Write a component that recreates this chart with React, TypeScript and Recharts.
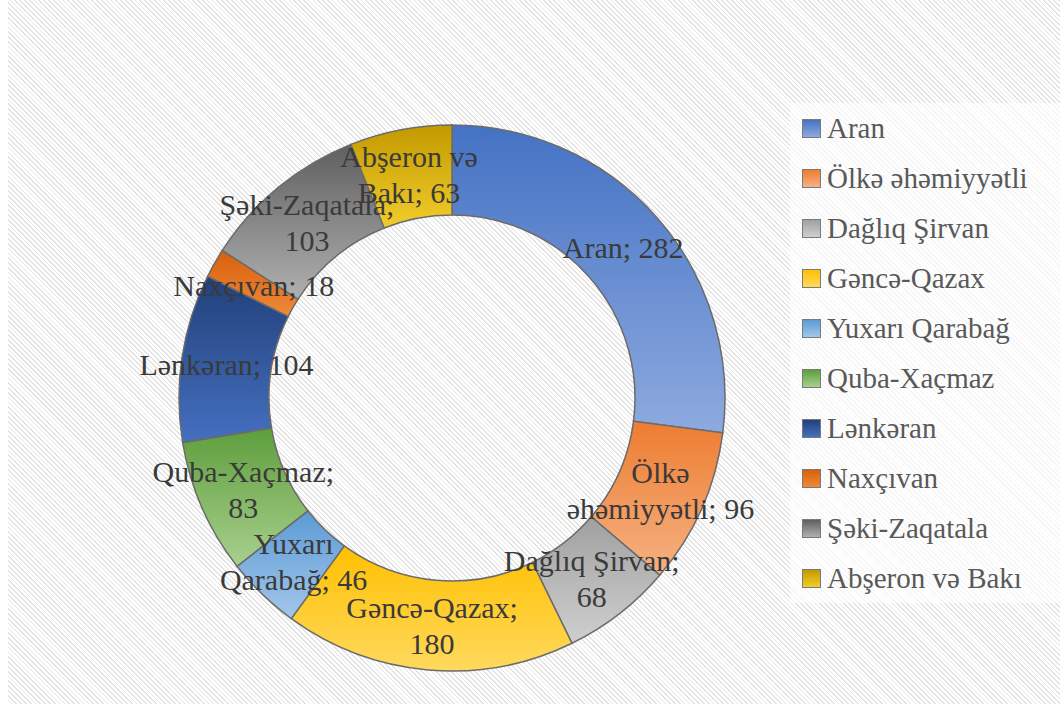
import { Cell, Legend, Pie, PieChart } from "recharts";

const categories = [
  "Aran",
  "Ölkə əhəmiyyətli",
  "Dağlıq Şirvan",
  "Gəncə-Qazax",
  "Yuxarı Qarabağ",
  "Quba-Xaçmaz",
  "Lənkəran",
  "Naxçıvan",
  "Şəki-Zaqatala",
  "Abşeron və Bakı",
];
const values = [282, 96, 68, 180, 46, 83, 104, 18, 103, 63];
// words kept on the first label line (0 = label not wrapped)
const labelFirstLineWords = [0, 1, 2, 1, 1, 1, 0, 0, 1, 2];
const topColors = [
  "#4472c4",
  "#ed7d31",
  "#a0a0a0",
  "#ffc000",
  "#5b9bd5",
  "#5e9e3c",
  "#22407a",
  "#d8600c",
  "#5f5f5f",
  "#c29a00",
];
const bottomColors = [
  "#8eaadf",
  "#f6b183",
  "#cfcfcf",
  "#ffd95e",
  "#a3c6ea",
  "#a8d08d",
  "#4470c0",
  "#f08a3a",
  "#b0b0b0",
  "#f2cc2a",
];

const data = categories.map((name, i) => ({ name, value: values[i] }));

const FONT = "'Liberation Serif', 'Times New Roman', serif";
const LABEL_SIZE = 30;
const RAD = Math.PI / 180;

function labelLines(index: number, text: string) {
  const words = text.split(" ");
  const n = labelFirstLineWords[index];
  if (!n || n >= words.length) return [text];
  return [words.slice(0, n).join(" "), words.slice(n).join(" ")];
}

function renderLabel(props: any) {
  const { cx, cy, midAngle, innerRadius, outerRadius, name, value, index } = props;
  const r = (innerRadius + outerRadius) / 2;
  const x = cx + r * Math.cos(-midAngle * RAD);
  const y = cy + r * Math.sin(-midAngle * RAD);
  const lines = labelLines(index, `${name}; ${value}`);
  const lh = 36;
  return (
    <text x={x} y={y} textAnchor="middle" fill="#3a3a3a" fontFamily={FONT} fontSize={LABEL_SIZE}>
      {lines.map((ln, i) => (
        <tspan key={i} x={x} y={y + (i - (lines.length - 1) / 2) * lh} dominantBaseline="central">
          {ln}
        </tspan>
      ))}
    </text>
  );
}

function LegendBox() {
  return (
    <div
      style={{
        background: "rgba(255,255,255,0.65)",
        paddingLeft: 12,
        width: 270,
        boxSizing: "border-box",
      }}
    >
      {categories.map((name, i) => (
        <div key={name} style={{ display: "flex", alignItems: "center", height: 50 }}>
          <span
            style={{
              display: "inline-block",
              width: 17,
              height: 17,
              border: "1.5px solid #7a7a7a",
              background: `linear-gradient(${topColors[i]}, ${bottomColors[i]})`,
              marginRight: 6,
            }}
          />
          <span style={{ fontFamily: FONT, fontSize: 29, color: "#595959", whiteSpace: "nowrap" }}>
            {name}
          </span>
        </div>
      ))}
    </div>
  );
}

export default function App() {
  return (
    <div style={{ position: "absolute", left: 0, top: 0, width: 1060, height: 704, background: "#fff" }}>
      <div
        style={{
          position: "absolute",
          left: 8,
          top: 0,
          width: 1052,
          height: 704,
          background:
            "repeating-linear-gradient(45deg, #ffffff 0px, #ffffff 2.2px, #e3e3e3 2.2px, #e3e3e3 3.4px)",
        }}
      />
      <div style={{ position: "absolute", left: 0, top: 0 }}>
        <PieChart width={1060} height={704}>
          <defs>
            {categories.map((_, i) => (
              <linearGradient key={i} id={`g${i}`} x1="0" y1="0" x2="0" y2="1">
                <stop offset="0%" stopColor={topColors[i]} />
                <stop offset="100%" stopColor={bottomColors[i]} />
              </linearGradient>
            ))}
          </defs>
          <Pie
            data={data}
            dataKey="value"
            nameKey="name"
            cx={447}
            cy={393}
            innerRadius={183}
            outerRadius={273}
            startAngle={90}
            endAngle={-270}
            stroke="#6b6b6b"
            strokeWidth={1.5}
            label={renderLabel}
            labelLine={false}
            isAnimationActive={false}
          >
            {data.map((d, i) => (
              <Cell key={d.name} fill={`url(#g${i})`} />
            ))}
          </Pie>
          <Legend
            layout="vertical"
            content={() => <LegendBox />}
            wrapperStyle={{ position: "absolute", left: 790, top: 103, width: 270 }}
          />
        </PieChart>
      </div>
    </div>
  );
}
